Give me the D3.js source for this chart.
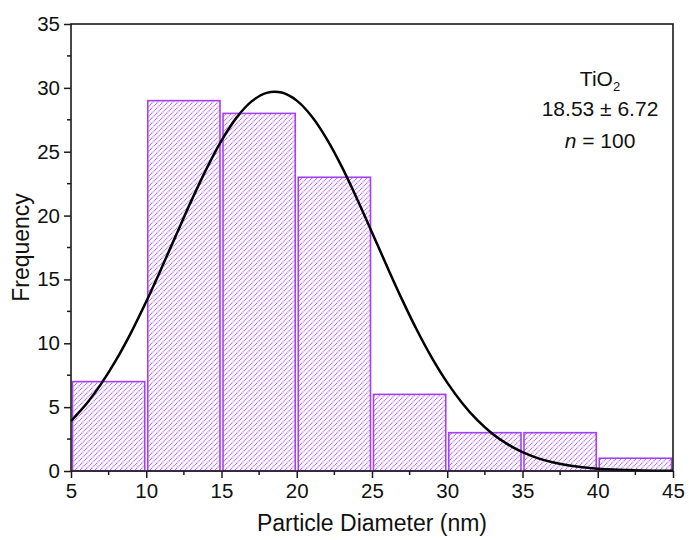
<!DOCTYPE html>
<html><head><meta charset="utf-8">
<script src="https://cdn.jsdelivr.net/npm/d3@7"></script>
<style>body{margin:0;background:#fff}svg{display:block;font-family:"Liberation Sans",Arial,sans-serif}</style>
</head><body>
<svg id="c" width="689" height="540"></svg>
<script>
const binStarts = [5, 10, 15, 20, 25, 30, 35, 40];
const binWidth = 5;
const counts = [7, 29, 28, 23, 6, 3, 3, 1];
const fitX = [5,6,7,8,9,10,11,12,13,14,15,16,17,18,19,20,21,22,23,24,25,26,27,28,29,30,31,32,33,34,35,36,37,38,39,40,41,42,43,44,45];
const fitY = [3.91,5.22,6.82,8.70,10.86,13.27,15.85,18.52,21.17,23.66,25.87,27.67,28.94,29.61,29.63,29.00,27.76,25.99,23.81,21.32,18.68,16.01,13.42,11.00,8.82,6.92,5.31,3.98,2.92,2.10,1.47,1.01,0.68,0.45,0.29,0.18,0.11,0.07,0.04,0.02,0.01];
const xTicks = [5,10,15,20,25,30,35,40,45];
const yTicks = [0,5,10,15,20,25,30,35];
const annotation = {name:"TiO", sub:"2", stats:"18.53 ± 6.72", n:"100"};

const svg = d3.select("#c");
const L = 71, R = 673, T = 24, B = 471;
const x = d3.scaleLinear().domain([5,45]).range([L,R]);
const y = d3.scaleLinear().domain([0,35]).range([B,T]);

const defs = svg.append("defs");
const pat = defs.append("pattern").attr("id","hatch").attr("patternUnits","userSpaceOnUse")
  .attr("width",5).attr("height",5);
pat.append("path").attr("d","M-1,1 L1,-1 M0,5 L5,0 M4,6 L6,4")
  .attr("stroke","#b060f5").attr("stroke-width",1.15).attr("stroke-dasharray","1.2,0.6");

// bars
svg.append("g").selectAll("rect").data(binStarts).join("rect")
  .attr("x", d => x(d) + 1.5)
  .attr("width", d => x(d + binWidth) - x(d) - 3)
  .attr("y", (d,i) => y(counts[i]))
  .attr("height", (d,i) => y(0) - y(counts[i]))
  .attr("fill","url(#hatch)")
  .attr("stroke","#a340f5").attr("stroke-width",1.6);

// fit curve
const line = d3.line().x((d,i)=>x(fitX[i])).y(d=>y(d)).curve(d3.curveCatmullRom);
svg.append("path").datum(fitY).attr("d",line).attr("fill","none")
  .attr("stroke","#000").attr("stroke-width",2.5);

// frame
svg.append("rect").attr("x",L).attr("y",T).attr("width",R-L).attr("height",B-T)
  .attr("fill","none").attr("stroke","#1a1a1a").attr("stroke-width",1.6);

// axes
const xAxis = d3.axisBottom(x).tickValues(xTicks).tickSize(7).tickPadding(5).tickFormat(d3.format("d"));
const gx = svg.append("g").attr("transform",`translate(0,${B})`).call(xAxis);
const yAxis = d3.axisLeft(y).tickValues(yTicks).tickSize(7).tickPadding(4).tickFormat(d3.format("d"));
const gy = svg.append("g").attr("transform",`translate(${L},0)`).call(yAxis);
[gx,gy].forEach(g=>{
  g.select(".domain").remove();
  g.selectAll("line").attr("stroke","#1a1a1a").attr("stroke-width",1.5);
  g.selectAll("text").attr("font-size",20.5).attr("fill","#111").attr("font-family","Liberation Sans, Arial, sans-serif");
});
// minor ticks
const xMinor = xTicks.slice(0,-1).map(d=>d+2.5);
svg.append("g").selectAll("line").data(xMinor).join("line")
  .attr("x1",d=>x(d)).attr("x2",d=>x(d)).attr("y1",B).attr("y2",B+4)
  .attr("stroke","#1a1a1a").attr("stroke-width",1.5);
const yMinor = yTicks.slice(0,-1).map(d=>d+2.5);
svg.append("g").selectAll("line").data(yMinor).join("line")
  .attr("y1",d=>y(d)).attr("y2",d=>y(d)).attr("x1",L).attr("x2",L-4)
  .attr("stroke","#1a1a1a").attr("stroke-width",1.5);

// axis titles
svg.append("text").attr("x",(L+R)/2).attr("y",531).attr("text-anchor","middle")
  .attr("font-size",23).attr("fill","#111").text("Particle Diameter (nm)");
svg.append("text").attr("transform",`translate(29,${(T+B)/2}) rotate(-90)`).attr("text-anchor","middle")
  .attr("font-size",23).attr("fill","#111").text("Frequency");

// annotation
const ax = 600;
const t1 = svg.append("text").attr("x",ax).attr("y",86).attr("text-anchor","middle").attr("font-size",21).attr("fill","#111");
t1.append("tspan").text(annotation.name);
t1.append("tspan").attr("font-size",13).attr("dy",5).text(annotation.sub);
svg.append("text").attr("x",ax).attr("y",116).attr("text-anchor","middle").attr("font-size",21).attr("fill","#111").text(annotation.stats);
const t3 = svg.append("text").attr("x",ax).attr("y",148).attr("text-anchor","middle").attr("font-size",21).attr("fill","#111");
t3.append("tspan").attr("font-style","italic").text("n");
t3.append("tspan").text(" = " + annotation.n);
</script>
</body></html>
